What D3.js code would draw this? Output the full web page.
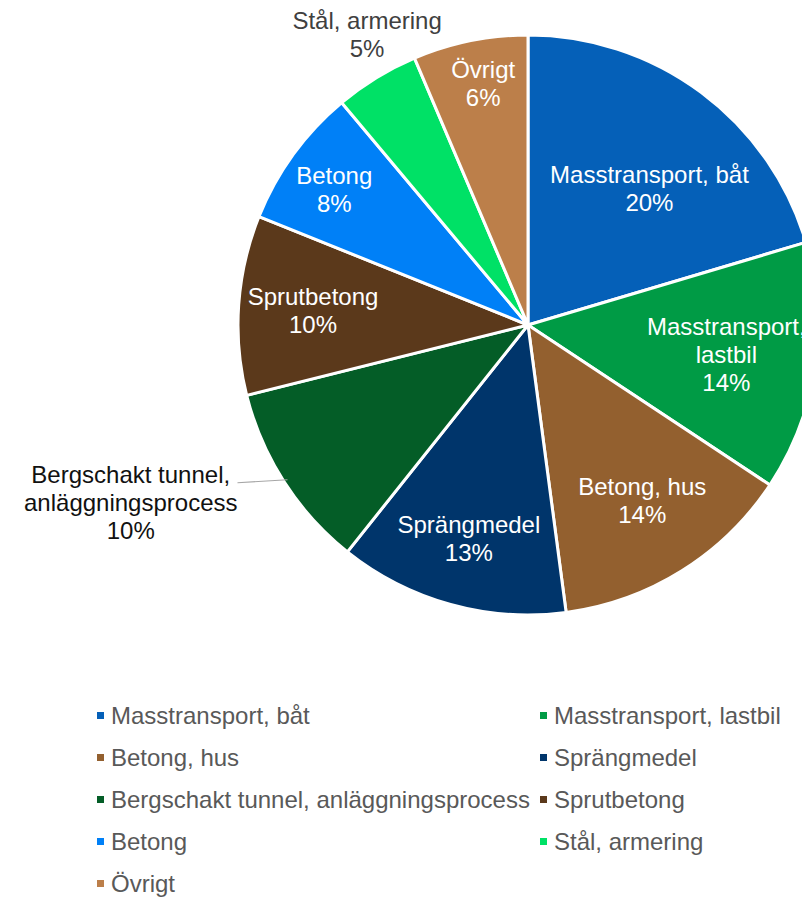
<!DOCTYPE html>
<html>
<head>
<meta charset="utf-8">
<script src="https://cdn.jsdelivr.net/npm/d3@7"></script>
<style>
  body { margin: 0; background: #fff; }
  svg { display: block; font-family: Arial, "Liberation Sans", sans-serif; }
</style>
</head>
<body>
<div class="viz"></div>
<script>
const categories = [
  "Masstransport, båt",
  "Masstransport, lastbil",
  "Betong, hus",
  "Sprängmedel",
  "Bergschakt tunnel, anläggningsprocess",
  "Sprutbetong",
  "Betong",
  "Stål, armering",
  "Övrigt"
]
// share of total, percent
const values = [20.4, 13.9, 13.6, 12.8, 10.4, 10.0, 7.8, 4.7, 6.4]
const colors = ["#0560B8", "#009B45", "#93602F", "#00356B", "#045D27", "#5B391B", "#0080F7", "#00E166", "#BC7F4A"]
// how the data labels wrap on the chart
const labelText = [
  "Masstransport, båt",
  "Masstransport,\nlastbil",
  "Betong, hus",
  "Sprängmedel",
  "Bergschakt tunnel,\nanläggningsprocess",
  "Sprutbetong",
  "Betong",
  "Stål, armering",
  "Övrigt"
]
const outside = ["Bergschakt tunnel, anläggningsprocess", "Stål, armering"]

const drawChart = () => {
  var w = 802
  var h = 898
  var cx = 528, cy = 325, R = 290
  var fs = 24, lineH = 28

  const svg = d3.select(".viz")
    .append("svg")
    .attr("width", w)
    .attr("height", h)

  const total = d3.sum(values)
  const pct = d3.format(".0%")
  const arcs = d3.pie().sort(null).value(d => d)(values)
  const arc = d3.arc().innerRadius(0).outerRadius(R)

  const g = svg.append("g").attr("transform", `translate(${cx},${cy})`)

  g.selectAll("path")
    .data(arcs)
    .enter()
    .append("path")
    .attr("d", arc)
    .attr("fill", (d, i) => colors[i])
    .attr("stroke", "#fff")
    .attr("stroke-width", 3)
    .attr("stroke-linejoin", "round")

  // text width helper
  const probe = svg.append("text").attr("font-size", fs).attr("visibility", "hidden")
  const tw = s => { probe.text(s); return probe.node().getComputedTextLength() }

  const norm = a => { a = a % (2 * Math.PI); return a < 0 ? a + 2 * Math.PI : a }

  arcs.forEach((d, i) => {
    const lines = labelText[i].split("\n").concat(pct(values[i] / total))
    const bw = d3.max(lines, tw)
    const bh = lines.length * lineH
    const mid = (d.startAngle + d.endAngle) / 2
    let x, y, color = "#fff"

    if (outside.includes(categories[i])) {
      color = i == 4 ? "#111" : "#404040"
      if (Math.abs(Math.sin(mid)) > 0.7) {
        // side label with a leader line
        const sx = (R - 4) * Math.sin(mid), sy = -(R - 4) * Math.cos(mid)
        const ex = sx - 50, ey = sy + 3
        g.append("line")
          .attr("x1", sx).attr("y1", sy).attr("x2", ex).attr("y2", ey)
          .attr("stroke", "#A6A6A6").attr("stroke-width", 1.2)
        x = ex - bw / 2
        y = ey + bh / 2 - lineH / 2 - fs * 0.35
      } else {
        const ax = (R + 18) * Math.sin(mid), ay = -(R + 18) * Math.cos(mid)
        x = ax
        y = ay - bh / 2
      }
    } else {
      // "best fit": keep the text box inside its slice, as close to the nominal spot as possible
      const deg = (d.endAngle - d.startAngle) * 180 / Math.PI
      const r0 = R * (0.97 - 0.0053 * deg)
      const x0 = r0 * Math.sin(mid), y0 = -r0 * Math.cos(mid)
      const fits = (px, py, pad) => [[-1, -1], [1, -1], [1, 1], [-1, 1]].every(([sx, sy]) => {
        const qx = px + sx * bw / 2, qy = py + sy * bh / 2
        const qr = Math.hypot(qx, qy)
        const qa = norm(Math.atan2(qx, -qy))
        if (qa < d.startAngle || qa > d.endAngle) return false
        if (qr * Math.sin(qa - d.startAngle) < pad) return false
        if (qr * Math.sin(d.endAngle - qa) < pad) return false
        return qr < R - pad / 2
      })
      let best = null
      for (const pad of [22, 12, 4]) {
        for (let r = R * 0.35; r <= R * 0.95; r += 3) {
          for (let k = -30; k <= 30; k++) {
            const a = mid + k * Math.PI / 180
            const px = r * Math.sin(a), py = -r * Math.cos(a)
            if (!fits(px, py, pad)) continue
            const c = Math.hypot(px - x0, py - y0)
            if (!best || c < best.c) best = { x: px, y: py, c }
          }
        }
        if (best) break
      }
      if (!best) best = { x: x0, y: y0 }
      x = best.x
      y = best.y
    }

    const t = g.append("text")
      .attr("text-anchor", "middle")
      .attr("font-size", fs)
      .attr("fill", color)
    lines.forEach((l, j) => {
      t.append("tspan")
        .attr("x", x)
        .attr("y", y - bh / 2 + lineH * j + lineH / 2 + fs * 0.35)
        .text(l)
    })
  })

  probe.remove()

  // legend, two columns
  const colX = d3.scaleOrdinal().domain([0, 1]).range([97, 540])
  const rowY = d3.scaleLinear().domain([0, 1]).range([716, 758])

  const leg = svg.append("g")
    .selectAll("g")
    .data(categories)
    .enter()
    .append("g")
    .attr("transform", (d, i) => `translate(${colX(i % 2)},${rowY(Math.floor(i / 2))})`)

  leg.append("rect")
    .attr("x", 0)
    .attr("y", -4)
    .attr("width", 7)
    .attr("height", 7)
    .attr("fill", (d, i) => colors[i])

  leg.append("text")
    .attr("x", 14)
    .attr("y", 8)
    .attr("font-size", fs)
    .attr("fill", "#595959")
    .text(d => d)
}

drawChart()
</script>
</body>
</html>
